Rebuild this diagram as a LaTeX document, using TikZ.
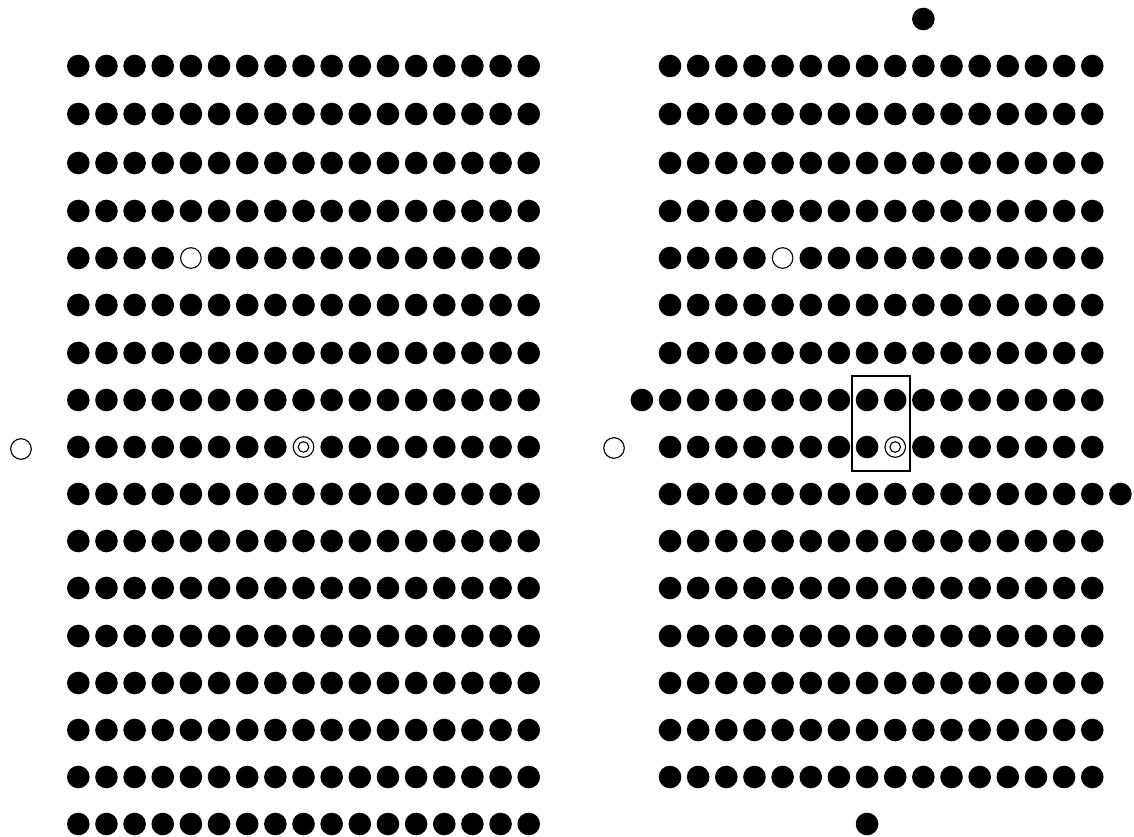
\documentclass[tikz,border=0pt]{standalone}
\begin{document}
\begin{tikzpicture}[x=1pt,y=-1pt,
  dotfill/.style={fill=black},
  opencirc/.style={draw=black,line width=1.1pt,fill=white},
  frame/.style={draw=black,line width=1.1pt}]
\useasboundingbox (0,0) rectangle (1134,837);
\def\rad{11.3}
% left grid: 17 x 17
\foreach \yy [count=\r from 0] in {66,114,163,211,258,305,353,400,447,494,541,588,636,683,730,777,824}{
  \foreach \c in {0,...,16}{
    \pgfmathtruncatemacro\code{\r*100+\c}
    \ifnum\code=404 \else\ifnum\code=808 \else
      \fill[dotfill] (78.3+\c*28.15,\yy) circle (\rad);
    \fi\fi
  }
}
\draw[opencirc] (78.3+4*28.15,258) circle (10.3);
\draw[opencirc] (78.3+8*28.15,447) circle (10.3);
\draw[opencirc] (78.3+8*28.15,447) circle (5.3);
\draw[opencirc] (21,449) circle (10.3);
% right grid: 16 rows x 16 cols
\foreach \yy [count=\r from 0] in {66,114,163,211,258,305,353,400,447,494,541,588,636,683,730,777}{
  \foreach \c in {0,...,15}{
    \pgfmathtruncatemacro\code{\r*100+\c}
    \ifnum\code=404 \else\ifnum\code=808 \else
      \fill[dotfill] (670+\c*28.15,\yy) circle (\rad);
    \fi\fi
  }
}
\fill[dotfill] (670-28.15,400) circle (\rad);
\fill[dotfill] (670+16*28.15,494) circle (\rad);
\fill[dotfill] (670+9*28.15,19) circle (\rad);
\fill[dotfill] (670+7*28.15,824) circle (\rad);
\draw[opencirc] (670+4*28.15,258) circle (10.3);
\draw[opencirc] (670+8*28.15,447) circle (10.3);
\draw[opencirc] (670+8*28.15,447) circle (5.3);
\draw[opencirc] (614,448) circle (10.3);
\draw[frame] (852,376) rectangle (910,471);
\end{tikzpicture}
\end{document}
